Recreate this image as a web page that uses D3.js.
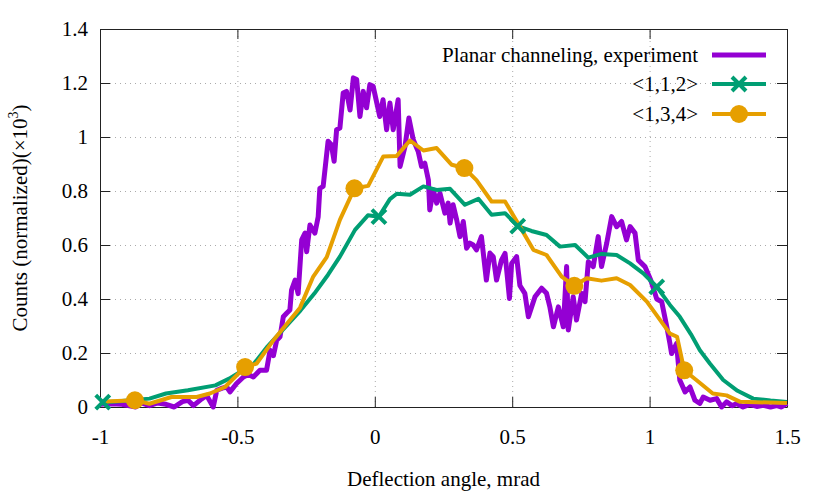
<!DOCTYPE html>
<html>
<head>
<meta charset="utf-8">
<script src="https://cdn.jsdelivr.net/npm/d3@7"></script>
<style>
  body { margin: 0; background: #fff; }
  svg text { font-family: "Liberation Serif", "DejaVu Serif", serif !important; fill: #000; }
</style>
</head>
<body>
<div id="chart" style="width:830px;height:498px"></div>
<script>
// tick labels
const xTicks = [-1, -0.5, 0, 0.5, 1, 1.5];
const yTicks = [0, 0.2, 0.4, 0.6, 0.8, 1, 1.2, 1.4];

// Planar channeling, experiment
const expX = [-1.0,-0.96,-0.92,-0.87,-0.85,-0.82,-0.79,-0.76,-0.73,-0.70,-0.68,-0.66,-0.63,-0.612,-0.588,-0.575,-0.555,-0.539,-0.527,-0.503,-0.478,-0.46,-0.442,-0.418,-0.394,-0.381,-0.369,-0.357,-0.345,-0.333,-0.321,-0.309,-0.303,-0.29,-0.279,-0.266,-0.254,-0.248,-0.236,-0.218,-0.206,-0.2,-0.188,-0.17,-0.158,-0.148,-0.139,-0.127,-0.115,-0.103,-0.09,-0.078,-0.066,-0.054,-0.042,-0.03,-0.018,-0.006,0.006,0.018,0.03,0.043,0.055,0.067,0.085,0.092,0.11,0.124,0.14,0.158,0.17,0.182,0.195,0.2,0.213,0.225,0.237,0.255,0.267,0.274,0.285,0.298,0.31,0.322,0.334,0.346,0.358,0.37,0.388,0.406,0.419,0.431,0.443,0.461,0.474,0.49,0.498,0.516,0.528,0.546,0.559,0.583,0.607,0.625,0.637,0.65,0.668,0.686,0.698,0.704,0.722,0.734,0.753,0.765,0.777,0.795,0.813,0.825,0.844,0.862,0.88,0.898,0.916,0.929,0.947,0.959,0.983,1.004,1.026,1.044,1.062,1.074,1.08,1.098,1.11,1.129,1.147,1.165,1.183,1.195,1.22,1.244,1.262,1.28,1.3,1.317,1.34,1.365,1.39,1.414,1.44,1.463,1.48,1.5];
const expY = [0.01,0.012,0.01,0.0,0.015,0.005,0.015,0.01,0.0,0.02,0.025,0.005,0.03,0.043,0.0,0.062,0.07,0.074,0.056,0.087,0.111,0.12,0.111,0.136,0.136,0.21,0.19,0.247,0.26,0.334,0.347,0.359,0.433,0.47,0.42,0.619,0.644,0.575,0.674,0.644,0.705,0.81,0.817,0.984,0.971,0.91,1.027,1.033,1.163,1.169,1.10,1.219,1.213,1.076,1.169,1.108,1.194,1.188,1.132,1.076,1.138,1.027,1.126,1.027,1.138,0.891,0.965,1.07,0.99,0.946,0.891,0.903,0.841,0.73,0.804,0.755,0.792,0.718,0.755,0.681,0.749,0.693,0.631,0.687,0.588,0.607,0.60,0.582,0.631,0.47,0.57,0.557,0.47,0.544,0.569,0.402,0.532,0.557,0.45,0.421,0.334,0.408,0.44,0.421,0.371,0.297,0.371,0.297,0.52,0.285,0.408,0.322,0.421,0.39,0.538,0.52,0.631,0.52,0.607,0.705,0.668,0.687,0.619,0.668,0.644,0.544,0.52,0.47,0.40,0.39,0.30,0.235,0.198,0.235,0.099,0.056,0.074,0.025,0.013,0.037,0.025,0.031,0.0,0.019,0.005,0.013,0.0,0.01,0.002,0.006,0.0,0.005,0.0,0.013];

// <1,1,2>
const g112X = [-0.99,-0.94,-0.89,-0.82,-0.76,-0.68,-0.58,-0.53,-0.49,-0.44,-0.39,-0.34,-0.27,-0.22,-0.17,-0.127,-0.072,-0.025,0.015,0.055,0.08,0.128,0.177,0.225,0.274,0.328,0.377,0.425,0.474,0.52,0.57,0.625,0.674,0.729,0.777,0.825,0.88,0.929,0.977,1.026,1.074,1.11,1.15,1.183,1.22,1.268,1.32,1.377,1.44,1.5];
const g112Y = [0.018,0.02,0.025,0.031,0.05,0.062,0.08,0.105,0.13,0.16,0.225,0.28,0.358,0.42,0.49,0.557,0.656,0.71,0.705,0.77,0.79,0.786,0.817,0.804,0.808,0.749,0.771,0.712,0.718,0.67,0.652,0.637,0.594,0.60,0.553,0.567,0.563,0.532,0.495,0.445,0.378,0.334,0.27,0.21,0.16,0.10,0.06,0.031,0.024,0.019];
const g112Marks = [0, 18, 29, 39];

// <1,3,4>
const g134X = [-1.0,-0.873,-0.82,-0.74,-0.648,-0.60,-0.545,-0.472,-0.43,-0.369,-0.272,-0.224,-0.175,-0.127,-0.074,-0.024,0.031,0.08,0.128,0.177,0.225,0.28,0.326,0.37,0.425,0.474,0.528,0.577,0.625,0.68,0.726,0.771,0.825,0.88,0.929,0.99,1.074,1.1,1.126,1.17,1.23,1.28,1.33,1.5];
const g134Y = [0.019,0.025,0.012,0.037,0.037,0.05,0.074,0.148,0.161,0.247,0.368,0.483,0.555,0.693,0.81,0.819,0.928,0.93,0.987,0.95,0.959,0.897,0.885,0.84,0.761,0.761,0.668,0.582,0.563,0.483,0.449,0.477,0.468,0.477,0.452,0.39,0.272,0.26,0.136,0.10,0.05,0.043,0.019,0.015];
const g134Marks = [1, 7, 14, 22, 30, 38];

const legendNames = ["Planar channeling, experiment", "<1,1,2>", "<1,3,4>"];
const colors = ["#9400d3", "#009e73", "#e69f00"];

const W = 830, H = 498;
const m = {t:29, l:100, b:91, r:43};
const w = W - m.l - m.r;
const h = H - m.t - m.b;
const fs = 21;

const scaleX = d3.scaleLinear().domain([-1, 1.5]).range([0, w]);
const scaleY = d3.scaleLinear().domain([0, 1.4]).range([h, 0]);

const svg = d3.select("#chart").append("svg")
  .attr("width", W).attr("height", H);

const plot = svg.append("g").attr("transform", `translate(${m.l},${m.t})`);

// grid
plot.append("g")
  .attr("class", "grid-x")
  .attr("transform", `translate(0,${h})`)
  .call(d3.axisBottom(scaleX).tickValues(xTicks.slice(1, -1)).tickSize(-h).tickFormat(""))
  .call(g => g.select(".domain").remove())
  .selectAll("line").attr("stroke", "#aaa").attr("stroke-width", 1).attr("stroke-dasharray", "1,4");
plot.append("g")
  .attr("class", "grid-y")
  .call(d3.axisLeft(scaleY).tickValues(yTicks.slice(1, -1)).tickSize(-w).tickFormat(""))
  .call(g => g.select(".domain").remove())
  .selectAll("line").attr("stroke", "#aaa").attr("stroke-width", 1).attr("stroke-dasharray", "1,4");

// axes, ticks inward on all sides
const fmt = d => String(d);
plot.append("g").attr("class", "ax").attr("transform", `translate(0,${h})`)
  .call(d3.axisBottom(scaleX).tickValues(xTicks).tickSizeInner(-10).tickSizeOuter(0).tickPadding(22).tickFormat(fmt));
plot.append("g").attr("class", "ax")
  .call(d3.axisLeft(scaleY).tickValues(yTicks).tickSizeInner(-10).tickSizeOuter(0).tickPadding(12).tickFormat(fmt));
plot.append("g").attr("class", "ax")
  .call(d3.axisTop(scaleX).tickValues(xTicks).tickSizeInner(-10).tickSizeOuter(0).tickFormat(""));
plot.append("g").attr("class", "ax").attr("transform", `translate(${w},0)`)
  .call(d3.axisRight(scaleY).tickValues(yTicks).tickSizeInner(-10).tickSizeOuter(0).tickFormat(""));
plot.selectAll(".ax").attr("font-family", "Liberation Serif").attr("font-size", fs);
plot.selectAll(".ax .domain").attr("stroke", "#222");
plot.selectAll(".ax .tick line").attr("stroke", "#222");

// lines
const lineGenerator = d3.line()
  .x(d => scaleX(d[0]))
  .y(d => scaleY(d[1]));

const lines = plot.append("g");
const expData = expX.map((x, i) => [x, expY[i]]);
const g112Data = g112X.map((x, i) => [x, g112Y[i]]);
const g134Data = g134X.map((x, i) => [x, g134Y[i]]);

lines.append("path").datum(expData)
  .attr("d", lineGenerator)
  .attr("fill", "none").attr("stroke", colors[0]).attr("stroke-width", 5)
  .attr("stroke-linejoin", "round");
lines.append("path").datum(g112Data)
  .attr("d", lineGenerator)
  .attr("fill", "none").attr("stroke", colors[1]).attr("stroke-width", 4)
  .attr("stroke-linejoin", "round");
lines.append("path").datum(g134Data)
  .attr("d", lineGenerator)
  .attr("fill", "none").attr("stroke", colors[2]).attr("stroke-width", 4)
  .attr("stroke-linejoin", "round");

function cross(g, x, y, c) {
  const s = 7;
  g.append("path")
    .attr("d", `M${x - s},${y - s}L${x + s},${y + s}M${x - s},${y + s}L${x + s},${y - s}`)
    .attr("stroke", c).attr("stroke-width", 4).attr("fill", "none");
}

g112Marks.forEach(i => cross(lines, scaleX(g112X[i]), scaleY(g112Y[i]), colors[1]));
lines.selectAll("circle.m134").data(g134Marks).enter().append("circle")
  .attr("class", "m134")
  .attr("cx", i => scaleX(g134X[i])).attr("cy", i => scaleY(g134Y[i]))
  .attr("r", 9).attr("fill", colors[2]);

// legend
const legend = svg.append("g").attr("font-family", "Liberation Serif");
const legY = [55, 84, 114];
legendNames.forEach((name, i) => {
  const y = legY[i];
  legend.append("text").attr("x", 698).attr("y", y).attr("dy", "0.35em")
    .attr("text-anchor", "end").attr("font-size", fs).text(name);
  legend.append("line").attr("x1", 712).attr("x2", 766).attr("y1", y).attr("y2", y)
    .attr("stroke", colors[i]).attr("stroke-width", i === 0 ? 5 : 4);
});
cross(legend, 739, legY[1], colors[1]);
legend.append("circle").attr("cx", 739).attr("cy", legY[2]).attr("r", 9).attr("fill", colors[2]);

// axis titles
svg.append("text").attr("x", m.l + w / 2).attr("y", 479).attr("dy", "0.35em")
  .attr("text-anchor", "middle").attr("font-size", fs).text("Deflection angle, mrad");
const yt = svg.append("text").attr("transform", `translate(20,${m.t + h / 2}) rotate(-90)`)
  .attr("dy", "0.35em").attr("text-anchor", "middle").attr("font-size", fs);
yt.append("tspan").text("Counts (normalized)(\u00d710");
yt.append("tspan").attr("font-size", 14).attr("dy", "-0.7em").text("3");
yt.append("tspan").attr("dy", "0.45em").text(")");
</script>
</body>
</html>
